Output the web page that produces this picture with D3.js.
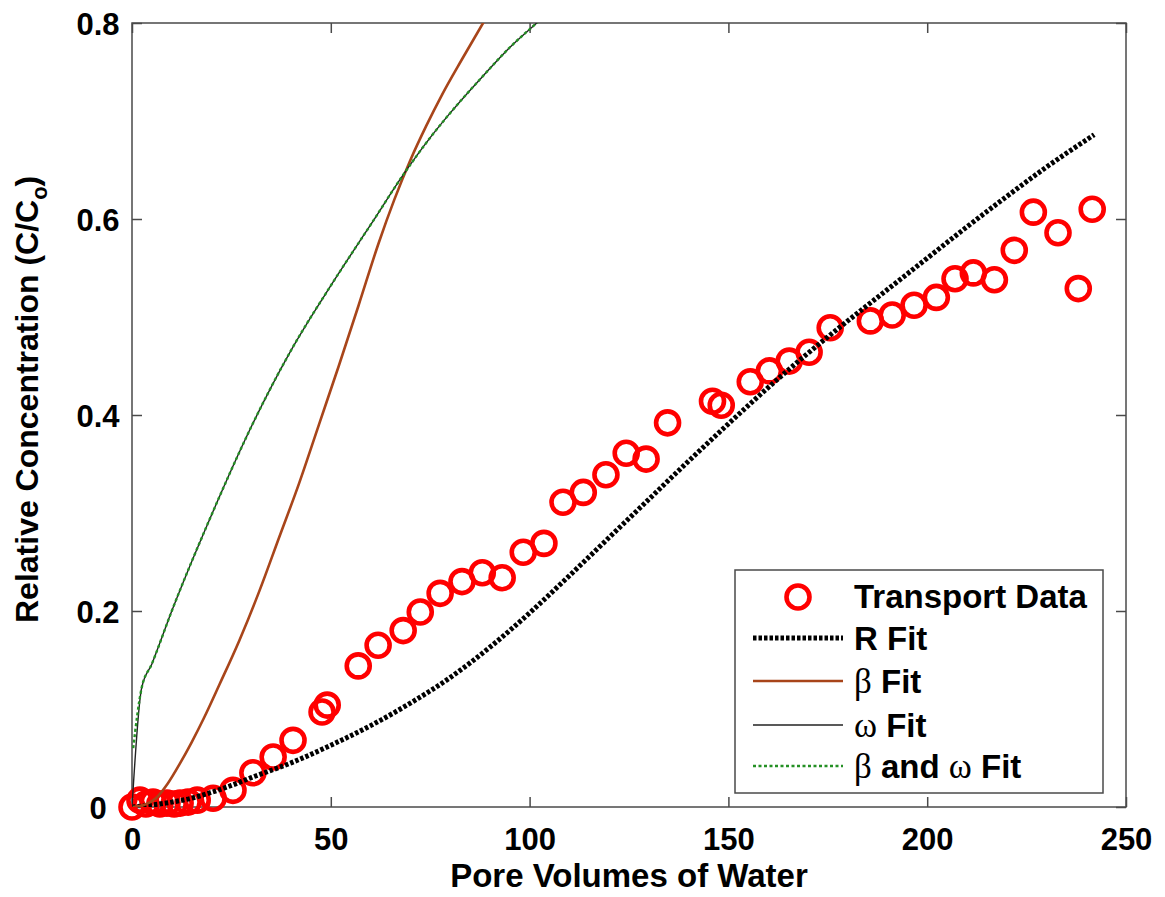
<!DOCTYPE html>
<html>
<head>
<meta charset="utf-8">
<script src="https://cdn.jsdelivr.net/npm/d3@7"></script>
<style>
  html, body { margin: 0; padding: 0; background: #fff; }
  svg { display: block; }
  text { font-family: "Liberation Sans", Arial, Helvetica, sans-serif; font-weight: bold; fill: #000; }
  .greek { font-family: "Liberation Serif", "DejaVu Serif", serif; font-weight: normal; }
</style>
</head>
<body>
<svg id="chart" width="1165" height="897"></svg>
<script>
// Breakthrough data: pore volumes of water vs relative concentration C/Co
const dataPV = [0, 2.0, 3.5, 5.3, 7.0, 8.8, 10.6, 12.1, 14.1, 16.4, 20.4, 25.4, 30.4, 35.5, 40.5,
  47.8, 49.1, 56.9, 61.9, 68.2, 72.5, 77.5, 83.0, 88.1, 93.1, 98.4, 103.6, 108.4, 113.5,
  119.2, 124.3, 129.3, 134.7, 146.0, 148.2, 155.5, 160.3, 165.3, 170.3, 175.6, 185.7,
  191.2, 196.7, 202.3, 207.0, 211.6, 216.9, 221.9, 226.7, 232.9, 238.0, 241.5];
const dataC = [0, 0.007, 0.003, 0.005, 0.003, 0.004, 0.003, 0.004, 0.005, 0.007, 0.009, 0.017, 0.035, 0.051, 0.068,
  0.097, 0.104, 0.144, 0.165, 0.180, 0.199, 0.218, 0.230, 0.239, 0.234, 0.260, 0.269, 0.311, 0.321,
  0.339, 0.361, 0.355, 0.392, 0.414, 0.410, 0.434, 0.445, 0.455, 0.464, 0.489, 0.496,
  0.502, 0.512, 0.520, 0.539, 0.545, 0.538, 0.568, 0.607, 0.586, 0.529, 0.610];

// R fit
const rPV = [0, 5, 10, 15, 20, 25, 30, 40, 50, 60, 70, 80, 90, 100, 110, 120, 130, 140, 150,
  160, 170, 180, 190, 200, 210, 220, 230, 242];
const rC = [0, 0.002, 0.005, 0.009, 0.015, 0.022, 0.030, 0.045, 0.063, 0.083, 0.106, 0.132, 0.163, 0.198,
  0.236, 0.275, 0.314, 0.353, 0.391, 0.428, 0.463, 0.496, 0.528, 0.560, 0.592, 0.623, 0.653, 0.686];

// beta fit
const betaPV = [0, 3, 6, 9, 12, 15, 18, 22, 27, 32, 37, 42, 47, 52, 57, 62, 66, 70, 74, 78, 83, 88.3, 95];
const betaC = [0, 0.002, 0.009, 0.024, 0.044, 0.066, 0.090, 0.125, 0.170, 0.220, 0.275, 0.330, 0.390,
  0.450, 0.512, 0.575, 0.620, 0.660, 0.695, 0.727, 0.763, 0.800, 0.845];

// omega fit
const omegaPV = [0, 2.4, 5, 10, 20, 30, 40, 50, 55.6, 60, 68.2, 75, 80, 88.3, 95, 101.8, 108];
const omegaC = [0, 0.121, 0.146, 0.200, 0.298, 0.388, 0.466, 0.532, 0.567, 0.594, 0.645, 0.683, 0.708,
  0.746, 0.775, 0.800, 0.822];

// beta and omega fit
const bothPV = [0.3, 2.4, 5, 10, 20, 30, 40, 50, 55.6, 60, 68.2, 75, 80, 88.3, 95, 101.8, 108];
const bothC = [0.06, 0.121, 0.146, 0.200, 0.298, 0.388, 0.466, 0.532, 0.567, 0.594, 0.645, 0.683, 0.708,
  0.746, 0.775, 0.800, 0.822];

const xTicks = [0, 50, 100, 150, 200, 250];
const yTicks = [0, 0.2, 0.4, 0.6, 0.8];
const legendLabels = ["Transport Data", "R Fit", "β Fit", "ω Fit", "β and ω Fit"];

const svg = d3.select("#chart");
const plotL = 132, plotR = 1126, plotT = 23, plotB = 807;
const x = d3.scaleLinear().domain([0, 250]).range([plotL, plotR]);
const y = d3.scaleLinear().domain([0, 0.8]).range([plotB, plotT]);

const axisColor = "#4a4a4a";

svg.append("defs").append("clipPath").attr("id", "plotClip")
  .append("rect").attr("x", plotL).attr("y", plotT).attr("width", plotR - plotL).attr("height", plotB - plotT);

// axes with inward ticks on all four sides
const gB = svg.append("g").attr("transform", `translate(0,${plotB})`)
  .call(d3.axisBottom(x).tickValues(xTicks).tickSizeInner(-10).tickSizeOuter(0).tickPadding(21)
    .tickFormat(d3.format("d")));
const gT = svg.append("g").attr("transform", `translate(0,${plotT})`)
  .call(d3.axisTop(x).tickValues(xTicks).tickSizeInner(-10).tickSizeOuter(0).tickFormat(""));
const gL = svg.append("g").attr("transform", `translate(${plotL},0)`)
  .call(d3.axisLeft(y).tickValues(yTicks).tickSizeInner(-10).tickSizeOuter(0)
    .tickFormat(d => d === 0 ? "0" : d3.format(".1f")(d)));
const gR = svg.append("g").attr("transform", `translate(${plotR},0)`)
  .call(d3.axisRight(y).tickValues(yTicks).tickSizeInner(-10).tickSizeOuter(0).tickFormat(""));

[gB, gT, gL, gR].forEach(g => {
  g.select(".domain").remove();
  g.selectAll("line").attr("stroke", axisColor).attr("stroke-width", 1.5);
});
gB.selectAll("text").style("font-size", "31px").attr("fill", "#000");
gL.selectAll("text").style("font-size", "31px").attr("fill", "#000")
  .attr("text-anchor", "middle").attr("x", -34).attr("dy", "0.38em");

svg.append("rect").attr("x", plotL).attr("y", plotT).attr("width", plotR - plotL).attr("height", plotB - plotT)
  .attr("fill", "none").attr("stroke", axisColor).attr("stroke-width", 1.5);

// data markers
svg.append("g").selectAll("circle").data(dataPV.map((p, i) => [p, dataC[i]])).join("circle")
  .attr("cx", d => x(d[0])).attr("cy", d => y(d[1])).attr("r", 11.5)
  .attr("fill", "none").attr("stroke", "#ff0000").attr("stroke-width", 4.6);

const line = d3.line().x(d => x(d[0])).y(d => y(d[1])).curve(d3.curveMonotoneX);
const zip = (a, b) => a.map((v, i) => [v, b[i]]);
const curves = svg.append("g").attr("clip-path", "url(#plotClip)");

const styles = {
  r: { stroke: "#000", width: 5, dash: "3.5 2" },
  beta: { stroke: "#a8451a", width: 2.6, dash: null },
  omega: { stroke: "#222", width: 1.4, dash: null },
  both: { stroke: "#249024", width: 2.4, dash: "3 2.5" }
};
function drawCurve(pts, s) {
  curves.append("path").attr("d", line(pts)).attr("fill", "none")
    .attr("stroke", s.stroke).attr("stroke-width", s.width)
    .attr("stroke-dasharray", s.dash);
}
drawCurve(zip(rPV, rC), styles.r);
drawCurve(zip(betaPV, betaC), styles.beta);
drawCurve(zip(omegaPV, omegaC), styles.omega);
drawCurve(zip(bothPV, bothC), styles.both);

// axis titles
svg.append("text").attr("x", (plotL + plotR) / 2).attr("y", 887).attr("text-anchor", "middle")
  .style("font-size", "33px").text("Pore Volumes of Water");
const yt = svg.append("text").attr("transform", "translate(38,623) rotate(-90)")
  .attr("text-anchor", "start").style("font-size", "32px");
yt.append("tspan").text("Relative Concentration (C/C");
yt.append("tspan").attr("dy", 9).style("font-size", "22px").text("o");
yt.append("tspan").attr("dy", -9).text(")");

// legend
const lg = svg.append("g");
lg.append("rect").attr("x", 735).attr("y", 570).attr("width", 368).attr("height", 223)
  .attr("fill", "#fff").attr("stroke", axisColor).attr("stroke-width", 1.5);
const rowY = [608, 650, 693, 737, 778];
const textX = 854;
lg.append("circle").attr("cx", 798).attr("cy", 597).attr("r", 11.5)
  .attr("fill", "none").attr("stroke", "#ff0000").attr("stroke-width", 4.6);
const legendStyles = [null, styles.r, styles.beta, styles.omega, styles.both];
legendStyles.forEach((s, i) => {
  if (!s) return;
  lg.append("line").attr("x1", 753).attr("x2", 843).attr("y1", rowY[i] - 12).attr("y2", rowY[i] - 12)
    .attr("stroke", s.stroke).attr("stroke-width", s.width).attr("stroke-dasharray", s.dash);
});
legendLabels.forEach((lab, i) => {
  const t = lg.append("text").attr("x", textX).attr("y", rowY[i]).style("font-size", "33px");
  // Greek letters are set in a regular serif face
  lab.split(/([βω])/).filter(s => s.length).forEach(part => {
    const ts = t.append("tspan").text(part);
    if (part === "β" || part === "ω") ts.attr("class", "greek").style("font-size", "35px");
  });
});
</script>
</body>
</html>
